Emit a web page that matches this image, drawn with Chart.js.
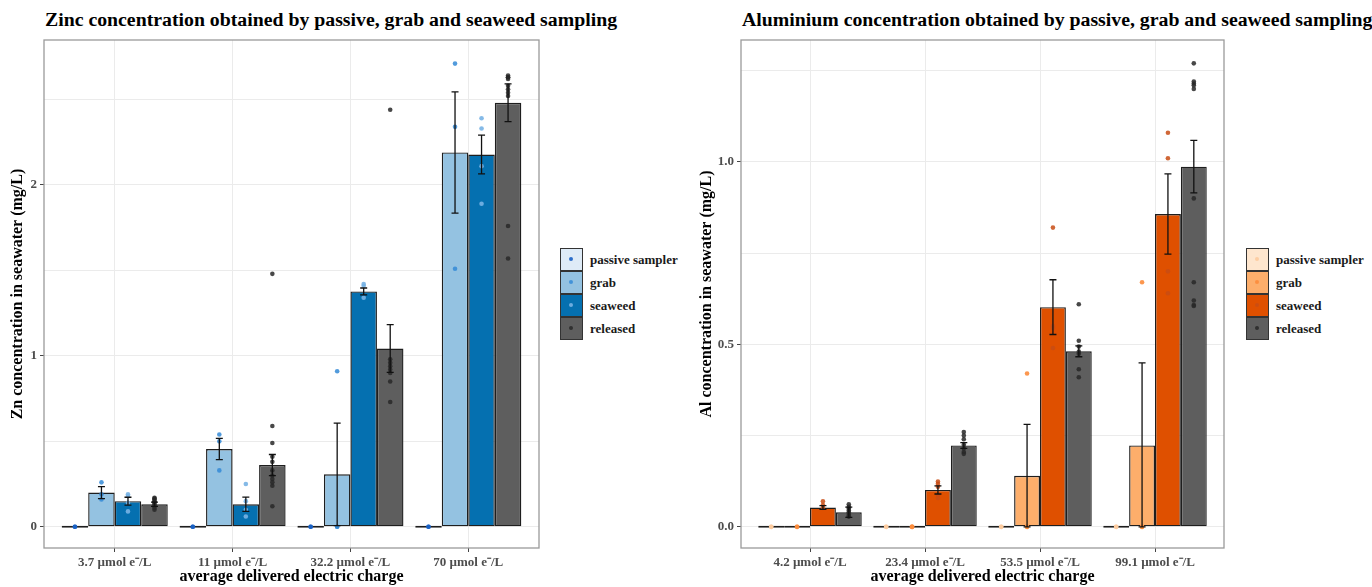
<!DOCTYPE html>
<html>
<head>
<meta charset="utf-8">
<script src="https://cdn.jsdelivr.net/npm/chart.js@4.4.1/dist/chart.umd.min.js"></script>
<style>
  body { margin: 0; background: #fff; }
  #wrap { position: relative; width: 1372px; height: 587px; overflow: hidden; font-family: "Liberation Serif", serif; }
  canvas { position: absolute; top: 0; }
  .title { position: absolute; top: 8px; font-weight: bold; font-size: 19.8px; color: #000; white-space: nowrap; }
  .legend { position: absolute; top: 248px; font-weight: bold; font-size: 13px; color: #1a1a1a; }
  .legend .row { display: flex; align-items: center; height: 23px; }
  .legend .key { position: relative; box-sizing: border-box; width: 23px; height: 23px; border: 1.5px solid #333; margin-right: 7px; }
  .legend .key i { position: absolute; left: 8px; top: 8px; width: 4px; height: 4px; border-radius: 50%; }
</style>
</head>
<body>
<div id="wrap">
  <div class="title" style="left:45px">Zinc concentration obtained by passive, grab and seaweed sampling</div>
  <canvas id="znChart" width="552" height="587" style="left:0px"></canvas>
  <div class="legend" id="znLegend" style="left:560px"></div>

  <div class="title" style="left:742px">Aluminium concentration obtained by passive, grab and seaweed sampling</div>
  <canvas id="alChart" width="548" height="587" style="left:689px"></canvas>
  <div class="legend" id="alLegend" style="left:1246px"></div>
</div>
<script>
  const seriesNames = ["passive sampler", "grab", "seaweed", "released"];

  // Zinc (mg/L)
  const znCategories = ["3.7 µmol e⁻/L", "11 µmol e⁻/L", "32.2 µmol e⁻/L", "70 µmol e⁻/L"];
  const znPassive = [0, 0, 0, 0];
  const znGrab = [0.20, 0.455, 0.307, 2.19];
  const znSeaweed = [0.15, 0.132, 1.377, 2.178];
  const znReleased = [0.132, 0.361, 1.043, 2.481];
  const znPassiveSe = [0, 0, 0, 0];
  const znGrabSe = [0.035, 0.062, 0.30, 0.355];
  const znSeaweedSe = [0.023, 0.042, 0.02, 0.113];
  const znReleasedSe = [0.012, 0.062, 0.14, 0.11];
  const znPassivePts = [[0, 0], [0, 0], [0, 0], [0, 0]];
  const znGrabPts = [[0.26, 0.19, 0.16], [0.54, 0.50, 0.33], [0.91, 0, 0], [2.71, 2.34, 1.51]];
  const znSeaweedPts = [[0.19, 0.18, 0.14, 0.09], [0.25, 0.15, 0.10, 0.06], [1.42, 1.41, 1.34], [2.39, 2.33, 2.11, 1.89]];
  const znReleasedPts = [
    [0.17, 0.165, 0.16, 0.15, 0.145, 0.14, 0.13, 0.12, 0.11, 0.10],
    [1.48, 0.59, 0.49, 0.41, 0.38, 0.33, 0.30, 0.28, 0.26, 0.24, 0.12],
    [2.44, 0.98, 0.96, 0.94, 0.92, 0.90, 0.85, 0.73],
    [2.64, 2.63, 2.63, 2.62, 2.58, 2.56, 2.54, 2.52, 1.76, 1.57]
  ];

  // Aluminium (mg/L)
  const alCategories = ["4.2 µmol e⁻/L", "23.4 µmol e⁻/L", "53.5 µmol e⁻/L", "99.1 µmol e⁻/L"];
  const alPassive = [0, 0, 0, 0];
  const alGrab = [0, 0, 0.14, 0.223];
  const alSeaweed = [0.053, 0.101, 0.602, 0.857];
  const alReleased = [0.040, 0.223, 0.481, 0.987];
  const alPassiveSe = [0, 0, 0, 0];
  const alGrabSe = [0, 0, 0.141, 0.226];
  const alSeaweedSe = [0.005, 0.011, 0.075, 0.11];
  const alReleasedSe = [0.014, 0.008, 0.015, 0.072];
  const alPassivePts = [[0, 0], [0, 0], [0, 0], [0, 0]];
  const alGrabPts = [[0, 0], [0, 0, 0], [0.42, 0, 0], [0.67, 0, 0]];
  const alSeaweedPts = [[0.07, 0.06, 0.052], [0.124, 0.118, 0.11, 0.088, 0.079], [0.82, 0.55, 0.545, 0.49], [1.08, 1.01, 0.70, 0.64]];
  const alReleasedPts = [
    [0.062, 0.055, 0.05, 0.045, 0.04, 0.035, 0.03, 0.028],
    [0.26, 0.25, 0.24, 0.225, 0.215, 0.205, 0.2],
    [0.61, 0.51, 0.494, 0.48, 0.474, 0.432, 0.41],
    [1.27, 1.22, 1.215, 1.21, 1.20, 0.90, 0.67, 0.62, 0.608, 0.605]
  ];

  const znBarColors = ["#deebf7", "#94c2e1", "#0570b0", "#5e5e5e"];
  const znDotColors = ["rgba(24,96,196,0.9)", "rgba(52,138,214,0.85)", "rgba(120,178,228,0.9)", "rgba(40,40,40,0.85)"];
  const alBarColors = ["#fee6ce", "#fdae6b", "#df5000", "#5e5e5e"];
  const alDotColors = ["rgba(253,204,160,0.95)", "rgba(252,140,60,0.9)", "rgba(200,76,20,0.85)", "rgba(40,40,40,0.85)"];

  // centre of each of the 4 dodged bars inside a group (total width 0.9)
  const dodge = [-0.3375, -0.1125, 0.1125, 0.3375];
  const fontFamily = "'Liberation Serif', serif";

  // error bars: mean +/- se, drawn through the y scale at each bar's x
  const errorBars = {
    id: "errorBars",
    afterDatasetsDraw(chart) {
      const ctx = chart.ctx;
      const y = chart.scales.y;
      ctx.save();
      ctx.strokeStyle = "#111";
      ctx.lineWidth = 1.3;
      chart.data.datasets.forEach((ds, di) => {
        if (!ds.se) return;
        const meta = chart.getDatasetMeta(di);
        meta.data.forEach((bar, i) => {
          const se = ds.se[i];
          if (!se) return;
          const m = ds.data[i].y;
          const top = y.getPixelForValue(m + se);
          const bot = y.getPixelForValue(Math.max(m - se, 0));
          ctx.beginPath();
          ctx.moveTo(bar.x, top); ctx.lineTo(bar.x, bot);
          ctx.moveTo(bar.x - 3.5, top); ctx.lineTo(bar.x + 3.5, top);
          ctx.moveTo(bar.x - 3.5, bot); ctx.lineTo(bar.x + 3.5, bot);
          ctx.stroke();
        });
      });
      ctx.restore();
    }
  };

  const panelBorder = {
    id: "panelBorder",
    afterDraw(chart) {
      const a = chart.chartArea;
      const ctx = chart.ctx;
      ctx.save();
      ctx.strokeStyle = "#9a9a9a";
      ctx.lineWidth = 1.3;
      ctx.strokeRect(a.left, a.top, a.right - a.left, a.bottom - a.top);
      ctx.restore();
    }
  };

  function buildLegend(id, barColors, dotColors) {
    const el = document.getElementById(id);
    seriesNames.forEach((name, s) => {
      const row = document.createElement("div");
      row.className = "row";
      row.innerHTML = '<span class="key" style="background:' + barColors[s] + '"><i style="background:' +
        dotColors[s] + '"></i></span>' + name;
      el.appendChild(row);
    });
  }

  function makeChart(canvasId, categories, means, ses, pts, barColors, dotColors, yTitle, yMin, yMax, yStep, isMajor, fmt, yWidth) {
    const datasets = [];
    means.forEach((vals, s) => {
      datasets.push({
        type: "bar",
        label: seriesNames[s],
        data: vals.map((v, i) => ({ x: i + 1, y: v })),
        se: ses[s],
        backgroundColor: barColors[s],
        borderColor: "#1e1e1e",
        borderWidth: 1.4,
        borderSkipped: false,
        minBarLength: 2,
        categoryPercentage: 0.9,
        barPercentage: 1,
        order: 2
      });
    });
    pts.forEach((groups, s) => {
      const data = [];
      groups.forEach((list, g) => list.forEach(v => data.push({ x: g + 1 + dodge[s], y: v })));
      datasets.push({
        type: "scatter",
        label: seriesNames[s] + " points",
        data: data,
        pointRadius: 2.3,
        pointBackgroundColor: dotColors[s],
        pointBorderWidth: 0,
        order: 1
      });
    });

    const tickFont = { family: fontFamily, size: 13, weight: "bold" };
    const titleFont = { family: fontFamily, size: 16, weight: "bold" };

    return new Chart(document.getElementById(canvasId), {
      type: "bar",
      data: { datasets: datasets },
      options: {
        responsive: false,
        animation: false,
        devicePixelRatio: 1,
        layout: { padding: { top: 40, right: 13, bottom: 0, left: 0 } },
        plugins: { legend: { display: false }, tooltip: { enabled: false } },
        scales: {
          x: {
            type: "linear",
            min: 0.4,
            max: 4.6,
            offset: false,
            grid: { offset: false, color: "#ebebeb", tickColor: "#444", tickLength: 4 },
            border: { display: false },
            ticks: {
              stepSize: 1,
              includeBounds: false,
              autoSkip: false,
              maxRotation: 0,
              padding: 3,
              color: "#4d4d4d",
              font: tickFont,
              callback: v => categories[Math.round(v) - 1] || ""
            },
            title: { display: true, text: "average delivered electric charge", color: "#000", font: titleFont, padding: { top: 0, bottom: 1 } },
            afterFit: sc => { sc.height = 39; }
          },
          y: {
            min: yMin,
            max: yMax,
            grid: {
              color: "#ebebeb",
              tickLength: 4,
              tickColor: c => (c.tick && isMajor(c.tick.value) ? "#444" : "rgba(0,0,0,0)")
            },
            border: { display: false },
            ticks: {
              stepSize: yStep,
              includeBounds: false,
              padding: 3,
              color: "#4d4d4d",
              font: tickFont,
              callback: v => (isMajor(v) ? fmt(v) : "")
            },
            title: { display: true, text: yTitle, color: "#000", font: titleFont, padding: { top: 8, bottom: 0 } },
            afterFit: sc => { sc.width = yWidth; }
          }
        }
      },
      plugins: [errorBars, panelBorder]
    });
  }

  makeChart("znChart", znCategories,
    [znPassive, znGrab, znSeaweed, znReleased],
    [znPassiveSe, znGrabSe, znSeaweedSe, znReleasedSe],
    [znPassivePts, znGrabPts, znSeaweedPts, znReleasedPts],
    znBarColors, znDotColors, "Zn concentration in seawater (mg/L)",
    -0.124, 2.848, 0.5,
    v => Math.abs(v - Math.round(v)) < 1e-6,
    v => String(Math.round(v)), 44);

  makeChart("alChart", alCategories,
    [alPassive, alGrab, alSeaweed, alReleased],
    [alPassiveSe, alGrabSe, alSeaweedSe, alReleasedSe],
    [alPassivePts, alGrabPts, alSeaweedPts, alReleasedPts],
    alBarColors, alDotColors, "Al concentration in seawater (mg/L)",
    -0.058, 1.334, 0.25,
    v => Math.abs(v * 2 - Math.round(v * 2)) < 1e-6,
    v => v.toFixed(1), 52);

  buildLegend("znLegend", znBarColors, znDotColors);
  buildLegend("alLegend", alBarColors, alDotColors);
</script>
</body>
</html>
